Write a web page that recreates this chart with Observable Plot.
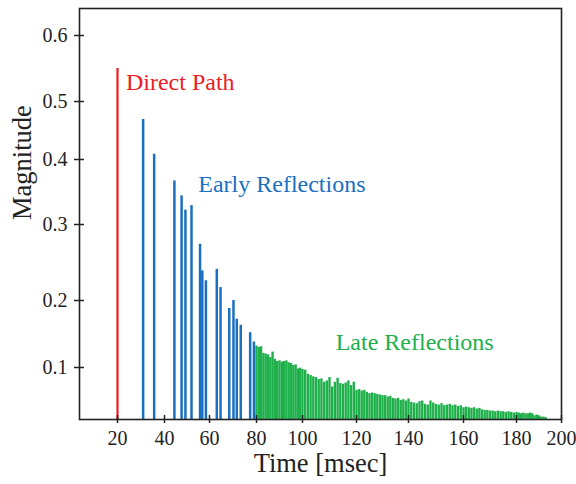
<!DOCTYPE html>
<html><head><meta charset="utf-8">
<script src="https://cdn.jsdelivr.net/npm/d3@7"></script>
<script src="https://cdn.jsdelivr.net/npm/@observablehq/plot@0.6"></script>
<style>body{margin:0;background:#fff}</style>
</head><body><div id="chart"></div>
<script>
// ---- data ----
const directTimes = [20];
const directMags = [0.55];

const earlyTimes = [30.9, 35.6, 44.4, 47.6, 49.3, 52.0, 55.8, 56.8, 58.4, 63.1, 64.7, 68.4, 70.2, 71.6, 73.3, 77.3, 78.9];
const earlyMags  = [0.469, 0.409, 0.367, 0.344, 0.322, 0.329, 0.274, 0.239, 0.226, 0.241, 0.217, 0.188, 0.200, 0.172, 0.163, 0.152, 0.138];

const lateTimes = [80,81,82,83,84,85,86,87,88,89,90,91,92,93,94,95,96,97,98,99,
  100,101,102,103,104,105,106,107,108,109,110,111,112,113,114,115,116,117,118,119,
  120,121,122,123,124,125,126,127,128,129,130,131,132,133,134,135,136,137,138,139,
  140,141,142,143,144,145,146,147,148,149,150,151,152,153,154,155,156,157,158,159,
  160,161,162,163,164,165,166,167,168,169,170,171,172,173,174,175,176,177,178,179,
  180,181,182,183,184,185,186,187,188,189,190,191,192,193];
const lateMags = [0.132,0.130,0.131,0.121,0.120,0.119,0.115,0.123,0.112,0.109,0.110,0.108,0.109,0.110,0.107,0.106,0.103,0.104,0.098,0.099,
  0.097,0.096,0.090,0.088,0.086,0.085,0.082,0.083,0.078,0.080,0.085,0.071,0.078,0.084,0.076,0.075,0.077,0.080,0.073,0.078,
  0.066,0.067,0.065,0.066,0.063,0.061,0.062,0.061,0.060,0.059,0.058,0.058,0.056,0.057,0.054,0.053,0.054,0.051,0.052,0.050,
  0.053,0.048,0.047,0.046,0.049,0.050,0.045,0.044,0.050,0.047,0.045,0.044,0.046,0.043,0.044,0.045,0.043,0.044,0.042,0.043,
  0.040,0.041,0.040,0.039,0.040,0.038,0.039,0.037,0.036,0.036,0.035,0.035,0.034,0.035,0.034,0.034,0.033,0.034,0.033,0.032,
  0.033,0.032,0.031,0.032,0.031,0.031,0.032,0.031,0.028,0.029,0.028,0.026,0.026,0.025];

const xTicks = [20, 40, 60, 80, 100, 120, 140, 160, 180, 200];
const yTicks = [0.1, 0.2, 0.3, 0.4, 0.5, 0.6];

const labelTexts = ["Direct Path", "Early Reflections", "Late Reflections"];
const labelTimes = [23.6, 55.0, 112.3];
const labelMags  = [0.529, 0.362, 0.137];

// ---- styles / scale calibration ----
const RED = "#ec1c24", BLUE = "#1b6fc0", GREEN = "#20b04b";
const xBreaks = [3.8, 20, 40, 60, 80, 100, 120, 140, 160, 180, 200];
const xPixels = [79, 117, 164, 209, 256, 302, 356, 408, 463, 516, 561];
const yBreaks = [0.0224, 0.1, 0.2, 0.3, 0.4, 0.5, 0.6, 0.641];
const yPixels = [419, 367, 300, 224, 159, 101, 35, 8];

const direct = directTimes.map((t, i) => ({t, m: directMags[i]}));
const early = earlyTimes.map((t, i) => ({t, m: earlyMags[i]}));
const late = lateTimes.map((t, i) => ({t, m: lateMags[i]}));
const labels = labelTexts.map((s, i) => ({s, t: labelTimes[i], m: labelMags[i], c: [RED, BLUE, GREEN][i]}));

const chart = Plot.plot({
  width: 576, height: 484,
  marginLeft: 79, marginRight: 15, marginTop: 8, marginBottom: 65,
  style: {fontFamily: "'Liberation Serif', 'Times New Roman', serif", background: "#fff", color: "#222"},
  x: {type: "linear", domain: xBreaks, range: xPixels},
  y: {type: "linear", domain: yBreaks, range: yPixels},
  marks: [
    Plot.ruleX(late, {x: "t", y1: 0, y2: "m", stroke: GREEN, strokeWidth: 2.4, clip: true}),
    Plot.ruleX(early, {x: "t", y1: 0, y2: "m", stroke: BLUE, strokeWidth: 2.5, clip: true}),
    Plot.ruleX(direct, {x: "t", y1: 0, y2: "m", stroke: RED, strokeWidth: 2.2, clip: true}),
    Plot.frame({stroke: "#222", strokeWidth: 1.6}),
    Plot.axisY(yTicks, {tickSize: 5, tickPadding: 7, fontSize: 20, label: null, color: "#222", strokeWidth: 1.5, tickFormat: d => d.toFixed(1)}),
    Plot.axisY(yTicks, {tickSize: -5, label: null, color: "#222", strokeWidth: 1.5, tickFormat: () => ""}),
    Plot.axisX(xTicks, {tickSize: 4, tickPadding: 7, fontSize: 20, label: null, color: "#222", strokeWidth: 1.5}),
    Plot.axisX(xTicks, {tickSize: -4, label: null, color: "#222", strokeWidth: 1.5, tickFormat: () => ""}),
    Plot.text(labels, {x: "t", y: "m", text: "s", fill: "c", textAnchor: "start", fontSize: 24}),
    Plot.text(["Magnitude"], {frameAnchor: "left", rotate: -90, dx: -57, dy: 6, fontSize: 26.5, fill: "#222"}),
    Plot.text(["Time [msec]"], {frameAnchor: "bottom", dy: 52, fontSize: 26.5, fill: "#222"})
  ]
});
document.getElementById("chart").appendChild(chart);
</script>
</body></html>
